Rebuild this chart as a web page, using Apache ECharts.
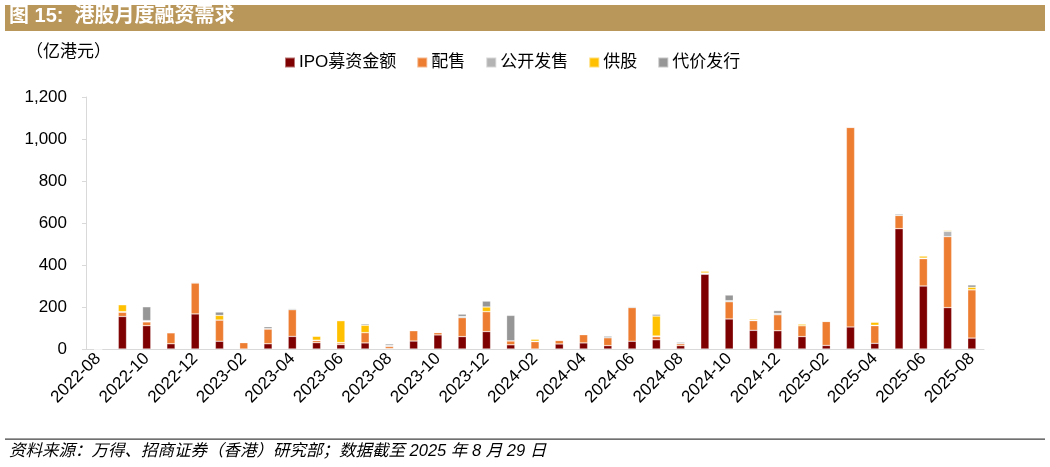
<!DOCTYPE html>
<html>
<head>
<meta charset="utf-8">
<script src="https://cdn.jsdelivr.net/npm/echarts@6/dist/echarts.min.js"></script>
<style>
  html, body { margin: 0; padding: 0; background: #fff; }
  #chart { width: 1050px; height: 467px; }
</style>
</head>
<body>
<div id="chart"></div>
<script>
// 月份（2022-08 至 2025-08）
var months = ['2022-08','2022-09','2022-10','2022-11','2022-12',
  '2023-01','2023-02','2023-03','2023-04','2023-05','2023-06','2023-07','2023-08','2023-09','2023-10','2023-11','2023-12',
  '2024-01','2024-02','2024-03','2024-04','2024-05','2024-06','2024-07','2024-08','2024-09','2024-10','2024-11','2024-12',
  '2025-01','2025-02','2025-03','2025-04','2025-05','2025-06','2025-07','2025-08'];
// 各类融资金额（亿港元）
var ipo = [0,155,111,25,167, 37,0,25,60,30,21,29,2,38,67,59,83, 20,0,24,29,16,37,44,16,356,143,89,87, 59,17,105,27,573,300,197,52];
var placing = [0,20,18,52,147, 101,30,70,127,10,8,49,10,49,11,90,95, 19,35,17,39,38,160,15,9,3,82,46,76, 52,114,950,84,63,130,338,230];
var publicOffer = [0,3,3,2,4, 0,2,2,6,2,2,0,5,2,2,6,0, 0,2,2,3,0,5,3,1,3,5,2,6, 0,2,3,2,0,3,25,0];
var rights = [0,33,3,0,0, 22,0,0,0,19,104,35,0,0,0,0,22, 0,10,0,0,0,0,95,0,9,0,6,0, 8,0,0,15,0,10,5,12];
var consideration = [0,0,66,0,0, 16,0,9,0,0,0,6,7,0,0,11,28, 121,0,0,0,7,0,8,6,0,27,0,14, 0,0,0,0,6,0,0,11];
var yTicks = [0, 1200, 200]; // min, max, interval

var latin = 'Liberation Sans, Arial, Noto Sans CJK SC, sans-serif';
var cjk = 'Liberation Sans, Noto Sans CJK SC, sans-serif';

var myChart = echarts.init(document.getElementById('chart'));

function bar(name, data, color) {
  return {
    name: name,
    type: 'bar',
    stack: 'total',
    barWidth: '34%',
    data: data,
    itemStyle: { color: color, borderColor: 'rgba(255,255,255,0.45)', borderWidth: 0.6 }
  };
}

var option = {
  animation: false,
  backgroundColor: '#fff',
  legend: {
    left: 279,
    top: 49,
    itemWidth: 10,
    itemHeight: 10,
    itemGap: 20,
    icon: 'rect',
    textStyle: { fontFamily: cjk, fontSize: 17, color: '#000', padding: [0, 0, 0, -1] },
    data: ['IPO募资金额', '配售', '公开发售', '供股', '代价发行']
  },
  grid: { left: 86, right: 66, top: 97, bottom: 118 },
  xAxis: {
    type: 'category',
    data: months,
    axisLine: { lineStyle: { color: '#D9D9D9', width: 1 } },
    axisTick: { interval: 1, length: 5, lineStyle: { color: '#D9D9D9' } },
    axisLabel: { interval: 1, rotate: 45, fontFamily: latin, fontSize: 17, color: '#000', margin: 7 }
  },
  yAxis: {
    type: 'value',
    min: yTicks[0],
    max: yTicks[1],
    interval: yTicks[2],
    axisLine: { show: true, lineStyle: { color: '#D9D9D9', width: 1 } },
    axisTick: { show: true, length: 4, lineStyle: { color: '#D9D9D9' } },
    splitLine: { show: false },
    axisLabel: {
      fontFamily: latin, fontSize: 17, color: '#000', margin: 19,
      formatter: function (v) { return v.toLocaleString('en-US'); }
    }
  },
  series: [
    bar('IPO募资金额', ipo, '#7F0000'),
    bar('配售', placing, '#ED7D31'),
    bar('公开发售', publicOffer, '#B4B4B4'),
    bar('供股', rights, '#FFC000'),
    bar('代价发行', consideration, '#969696')
  ],
  graphic: [
    { type: 'rect', shape: { x: 5, y: 5, width: 1040, height: 26 }, style: { fill: '#B9965A' } },
    { type: 'text', left: 9, top: 6, style: { text: '图 15:  港股月度融资需求', fill: '#fff', font: 'bold 20px ' + cjk } },
    { type: 'text', left: 26, top: 44, style: { text: '（亿港元）', fill: '#000', font: '17px ' + cjk } },
    { type: 'rect', shape: { x: 5, y: 438.5, width: 1040, height: 1.2 }, style: { fill: '#404040' } },
    { type: 'text', left: 9, top: 443, style: { text: '资料来源：万得、招商证券（香港）研究部；数据截至 2025 年 8 月 29 日', fill: '#000', font: 'italic 16.5px ' + cjk } }
  ]
};

myChart.setOption(option);
</script>
</body>
</html>
